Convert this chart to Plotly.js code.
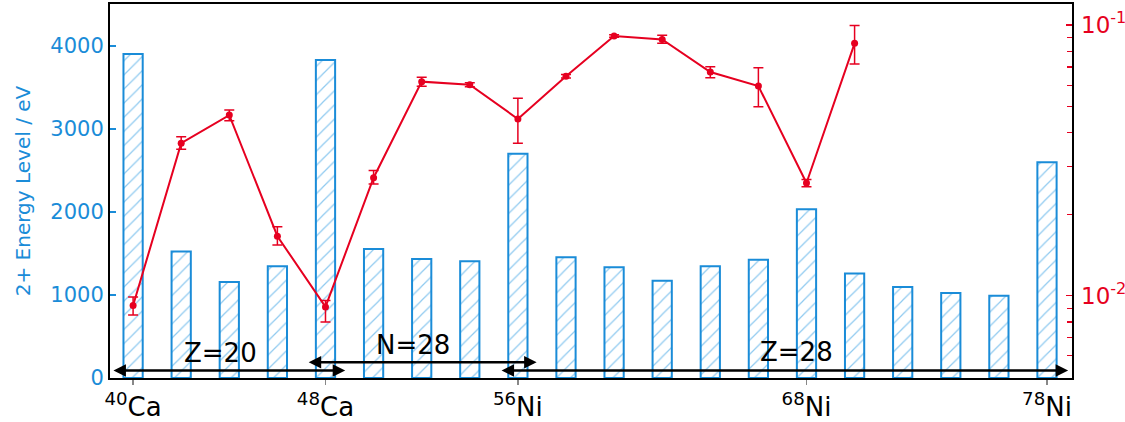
<!DOCTYPE html>
<html>
<head>
<meta charset="utf-8">
<script src="https://cdn.plot.ly/plotly-3.0.1.min.js"></script>
<style>html,body{margin:0;padding:0;background:#fff;}#chart{width:1125px;height:422px;}</style>
</head>
<body>
<div id="chart"></div>
<script>
// Nuclides (x categories)
const nuclides = ['40Ca','42Ca','44Ca','46Ca','48Ca','50Ti','52Cr','54Fe','56Ni','58Ni','60Ni','62Ni','64Ni','66Ni','68Ni','70Ni','72Ni','74Ni','76Ni','78Ni'];
// 2+ energy level (left axis)
const energy = [3904,1525,1157,1346,3832,1554,1434,1408,2701,1454,1333,1173,1346,1425,2033,1260,1096,1024,992,2600];
// Right-axis quantity (log scale), first 16 nuclides
const bValues = [0.0092,0.0366,0.0465,0.0166,0.0091,0.0273,0.0618,0.0602,0.0450,0.0647,0.0911,0.0885,0.0671,0.0595,0.0261,0.0856];
const bErrPlus = [0.0007,0.0021,0.0021,0.0014,0.0005,0.0017,0.0023,0.0010,0.0086,0.0010,0.0010,0.0031,0.0031,0.0101,0.0008,0.0141];
const bErrMinus = [0.0007,0.0018,0.0022,0.0012,0.0011,0.0014,0.0024,0.0010,0.0084,0.0010,0.0010,0.0029,0.0032,0.0096,0.0008,0.0138];
// Bottom tick labels
const xTickVals = ['40Ca','48Ca','56Ni','68Ni','78Ni'];
const xTickText = ['<sup>40</sup>Ca','<sup>48</sup>Ca','<sup>56</sup>Ni','<sup>68</sup>Ni','<sup>78</sup>Ni'];
// Left ticks
const yTickVals = [0,1000,2000,3000,4000];
// Right ticks (log): labelled majors and unlabelled minors
const y2TickVals = [0.01,0.1];
const y2TickText = ['10<sup>-2</sup>','10<sup>-1</sup>'];
const y2MinorVals = [0.005,0.006,0.007,0.008,0.009,0.02,0.03,0.04,0.05,0.06,0.07,0.08,0.09];

const BLUE = '#1a8cd8';
const RED = '#e60020';
const FONT = 'DejaVu Sans, sans-serif';

const traces = [
  {
    type: 'bar',
    x: nuclides,
    y: energy,
    width: 0.4,
    marker: {
      color: 'white',
      line: {color: BLUE, width: 2},
      pattern: {shape: '/', fgcolor: '#8fcaf0', bgcolor: 'white', size: 10, solidity: 0.12}
    },
    yaxis: 'y',
    hoverinfo: 'x+y'
  },
  {
    type: 'scatter',
    mode: 'lines+markers',
    x: nuclides.slice(0, bValues.length),
    y: bValues,
    yaxis: 'y2',
    line: {color: RED, width: 2},
    marker: {color: RED, size: 7},
    error_y: {type: 'data', symmetric: false, array: bErrPlus, arrayminus: bErrMinus, color: RED, thickness: 1.5, width: 5}
  }
];

function arrow(x0, x1, y) {
  return {x: x1, y: y, ax: x0, ay: y, xref: 'x', yref: 'y', axref: 'x', ayref: 'y',
    text: '', showarrow: true, arrowhead: 2, arrowside: 'end+start', arrowsize: 1,
    arrowwidth: 2.5, arrowcolor: 'black', standoff: 0, startstandoff: 0};
}
function label(txt, x, y) {
  return {x: x, y: y, xref: 'x', yref: 'y', text: txt, showarrow: false,
    font: {family: FONT, size: 26, color: 'black'}};
}

const layout = {
  width: 1125, height: 422,
  margin: {l: 110, r: 53, t: 4, b: 44},
  paper_bgcolor: 'white', plot_bgcolor: 'white',
  showlegend: false,
  font: {family: FONT},
  xaxis: {
    type: 'category',
    range: [-0.48, 19.52],
    tickvals: xTickVals, ticktext: xTickText,
    tickfont: {family: FONT, size: 26, color: 'black'},
    ticks: 'outside', ticklen: 5, tickwidth: 1.5, tickcolor: '#888',
    showline: true, linecolor: 'black', linewidth: 2, mirror: true,
    showgrid: false, zeroline: false
  },
  yaxis: {
    range: [0, 4506],
    tickvals: yTickVals,
    tickfont: {family: FONT, size: 21, color: BLUE},
    ticks: 'inside', ticklen: 6, tickwidth: 1.2, tickcolor: BLUE,
    showline: true, linecolor: 'black', linewidth: 2, mirror: true,
    showgrid: false, zeroline: false,
    title: {text: '2+ Energy Level / eV', font: {family: FONT, size: 20, color: BLUE}, standoff: 14}
  },
  yaxis2: {
    type: 'log',
    overlaying: 'y', side: 'right',
    range: [Math.log10(0.00497), Math.log10(0.1196)],
    tickmode: 'array', tickvals: y2TickVals, ticktext: y2TickText,
    tickfont: {family: FONT, size: 23, color: RED},
    ticks: 'inside', ticklen: 6, tickwidth: 1.2, tickcolor: RED,
    ticklabelstandoff: 8,
    minor: {tickmode: 'array', tickvals: y2MinorVals, ticks: 'inside', ticklen: 5, tickwidth: 1.2, tickcolor: RED, showgrid: false},
    showline: false, showgrid: false, zeroline: false
  },
  annotations: [
    arrow(-0.44, 4.41, 90),
    arrow(3.62, 8.39, 189),
    arrow(7.63, 19.44, 90),
    label('Z=20', 1.81, 300),
    label('N=28', 5.82, 397),
    label('Z=28', 13.8, 313)
  ]
};

Plotly.newPlot('chart', traces, layout, {displayModeBar: false, staticPlot: true});
</script>
</body>
</html>
